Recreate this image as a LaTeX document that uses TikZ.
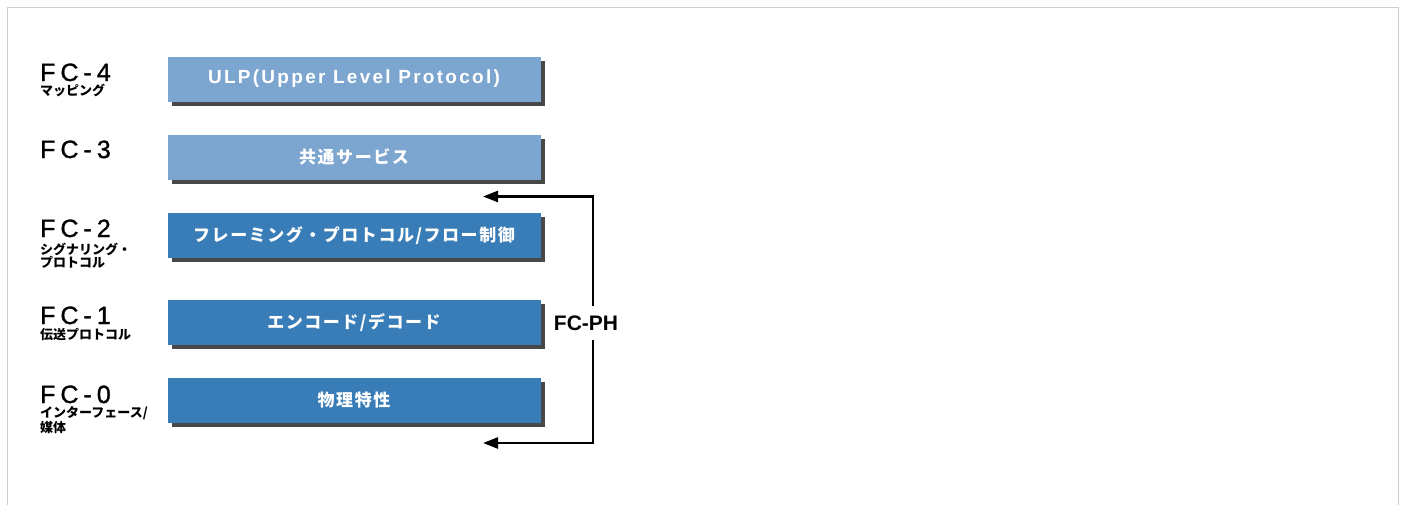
\documentclass[tikz,border=0pt]{standalone}
\usepackage{fontspec}
\setmainfont{Liberation Sans}
\newfontfamily\layerfont[LetterSpace=20,FakeBold=1.2]{Liberation Sans}
\newfontfamily\boxlatin[LetterSpace=12]{Liberation Sans}
\newfontfamily\jp[LetterSpace=9]{Noto Sans CJK JP}
\newfontfamily\jpsub{Noto Sans CJK JP}
\usetikzlibrary{arrows.meta,shadows}
\definecolor{boxlight}{RGB}{124,165,207}
\definecolor{boxdark}{RGB}{57,125,184}
\definecolor{shadowgray}{RGB}{72,72,72}
\definecolor{framegray}{RGB}{206,206,206}
\begin{document}
\begin{tikzpicture}[x=1pt,y=-1pt,
  layerbox/.style={minimum width=373pt, minimum height=45pt, inner sep=0pt,
    text=white,
    drop shadow={shadow xshift=4pt, shadow yshift=-4pt, fill=shadowgray, opacity=1}},
  upperbox/.style={layerbox, fill=boxlight},
  lowerbox/.style={layerbox, fill=boxdark},
  fclabel/.style={anchor=base west, inner sep=0pt,
    font=\layerfont\fontsize{25}{25}\selectfont},
  sublabel/.style={anchor=base west, inner sep=0pt,
    font=\jpsub\bfseries\fontsize{13}{13}\selectfont},
  jpbox/.style={font=\jp\bfseries\fontsize{17}{17}\selectfont},
  latinbox/.style={font=\boxlatin\bfseries\fontsize{19}{19}\selectfont},
  link/.style={line width=2.4pt, -{Triangle[length=15pt,width=11pt]}}]
\useasboundingbox (0,0) rectangle (1405,504);
\fill[white] (0,0) rectangle (1405,504);
% outer frame (open at the bottom)
\draw[framegray, line width=1pt] (7.5,510) -- (7.5,7.5) -- (1398.5,7.5) -- (1398.5,510);

% layer boxes
\node[upperbox, latinbox] (ulp) at (354,79) {ULP(Upper Level Protocol)};
\node[upperbox, jpbox] (common) at (354,157) {共通サービス};
\node[lowerbox, jpbox] (framing) at (354,235.5) {フレーミング・プロトコル/フロー制御};
\node[lowerbox, jpbox] (encode) at (354,322.5) {エンコード/デコード};
\node[lowerbox, jpbox] (physical) at (354,400.5) {物理特性};

% layer names
\node[fclabel] (fc4) at (40,81) {FC-4};
\node[sublabel] (fc4sub) at (40,95.5) {マッピング};
\node[fclabel] (fc3) at (40,158) {FC-3};
\node[fclabel] (fc2) at (40,237) {FC-2};
\node[sublabel] (fc2suba) at (40,254) {シグナリング・};
\node[sublabel] (fc2subb) at (40,267.5) {プロトコル};
\node[fclabel] (fc1) at (40,324) {FC-1};
\node[sublabel] (fc1sub) at (40,339.5) {伝送プロトコル};
\node[fclabel] (fc0) at (40,403) {FC-0};
\node[sublabel] (fc0suba) at (40,417.5) {インターフェース/};
\node[sublabel] (fc0subb) at (40,432) {媒体};

% FC-PH bracket
\node[font=\bfseries\fontsize{21}{21}\selectfont, inner sep=0pt,
      minimum height=34pt] (fcph) at (586,323) {FC-PH};
\coordinate (rail) at (593,323);
\coordinate (phtop) at (483,196.5);
\coordinate (phbottom) at (483,443);
\draw[link] (fcph.north -| rail) |- (phtop);
\draw[link] (fcph.south -| rail) |- (phbottom);
\end{tikzpicture}
\end{document}
